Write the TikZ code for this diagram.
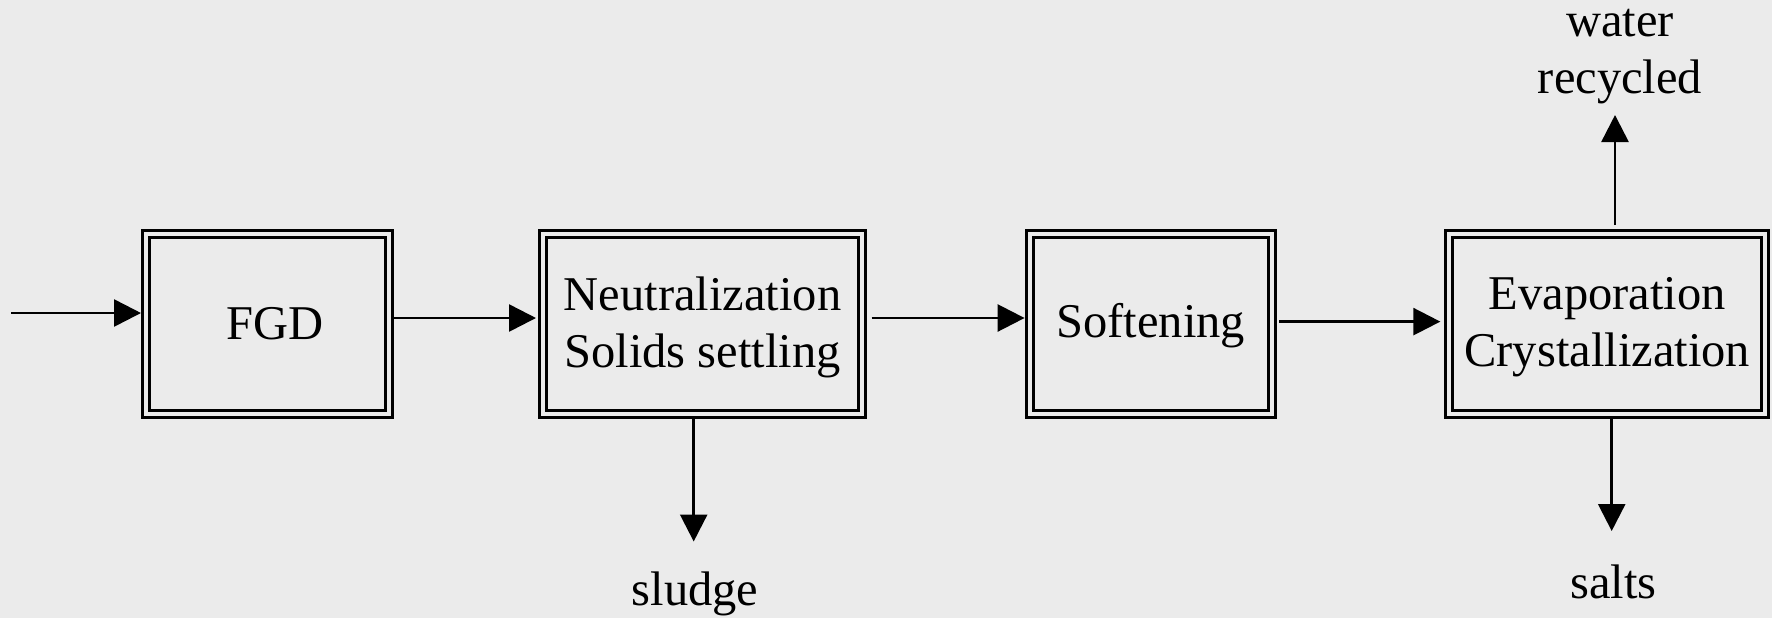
\documentclass[tikz,border=0pt]{standalone}
\usepackage{fontspec}
\setmainfont{Liberation Serif}
\usetikzlibrary{arrows.meta}
\definecolor{bg}{HTML}{EBEBEB}
\begin{document}
\begin{tikzpicture}[x=0.5pt,y=-0.5pt,
  box/.style={draw, line width=1.5pt, double=bg, double distance=2pt, outer sep=2.5pt, inner sep=0pt, minimum height=90pt, align=center, font=\fontsize{24.25}{28.5}\selectfont},
  lab/.style={font=\fontsize{24.25}{28.5}\selectfont, inner sep=0pt, align=center},
  arr/.style={line width=1.3pt, -{Triangle[length=13.5pt,width=13.5pt]}}]
\fill[bg] (0,0) rectangle (1772,618);
\useasboundingbox (0,0) rectangle (1772,618);

\node[box, minimum width=121.5pt] (FGD) at (267.5,324) {\hspace*{8pt}FGD};
\node[box, minimum width=159.5pt, text depth=2pt] (NS) at (702.5,324) {Neutralization\\Solids settling};
\node[box, minimum width=121.2pt, text depth=3.8pt] (SOF) at (1150.8,324) {Softening};
\node[box, minimum width=157.85pt, text depth=2.5pt] (EC) at (1607.2,324) {Evaporation\\Crystallization};

\node[lab, anchor=base] (WR) at (1620,93) {water\\recycled};
\node[lab, anchor=base] (SL) at (695,605) {sludge};
\node[lab, anchor=base] (SA) at (1613.5,598) {salts};

\coordinate (IN) at (11,313);
\coordinate (UP) at (1615,115);
\coordinate (DN) at (1611.7,531);
\coordinate (SD) at (693.7,541.5);

\draw[arr] (IN) -- (IN -| FGD.west);
\draw[arr, shorten >=1pt] ([yshift=3pt]FGD.east) -- ([yshift=3pt]NS.west);
\draw[arr, shorten <=2.25pt] ([yshift=3pt]NS.east) -- ([yshift=3pt]SOF.west);
\draw[arr, shorten <=1pt, shorten >=2pt] ([yshift=1.2pt]SOF.east) -- ([yshift=1.2pt]EC.west);
\draw[arr, shorten <=2pt] (EC.north -| UP) -- (UP);
\draw[arr] (EC.south -| DN) -- (DN);
\draw[arr] (NS.south -| SD) -- (SD);
\end{tikzpicture}
\end{document}
